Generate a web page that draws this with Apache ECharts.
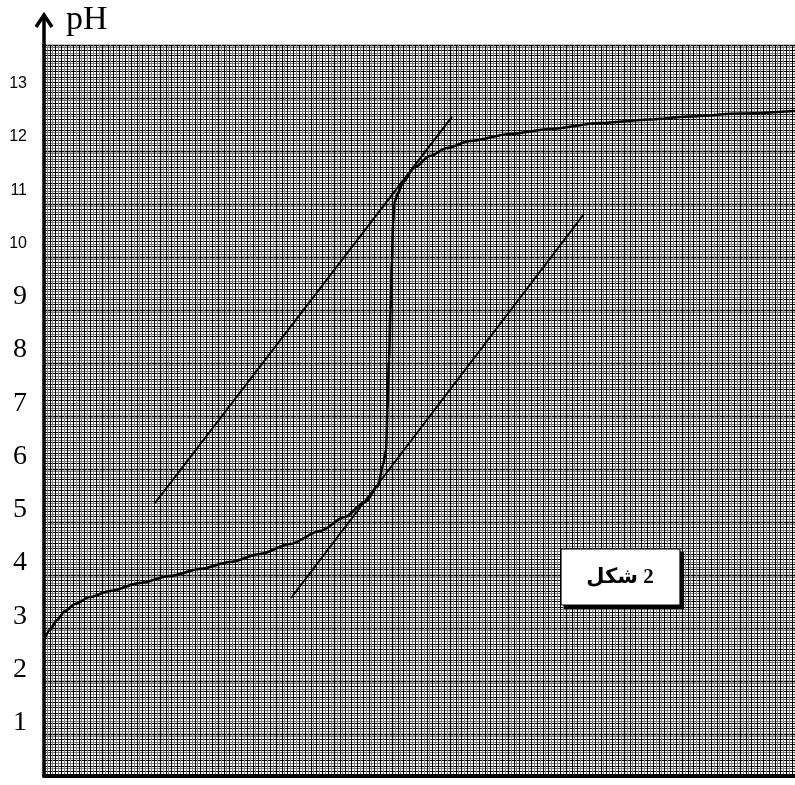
<!DOCTYPE html>
<html><head><meta charset="utf-8">
<script src="https://cdn.jsdelivr.net/npm/echarts@6/dist/echarts.min.js"></script>
<style>html,body{margin:0;padding:0;background:#fff}#c{width:795px;height:785px}</style>
</head><body><div id="c"></div>
<script>
// ---- data (x in cm of graph paper, y in pH) ----
const volume = [0, 0.103, 0.224, 0.362, 0.534, 0.793, 1.138, 1.655, 2.172, 2.690, 3.207, 3.724, 4.241, 4.759, 5.190, 5.534, 5.759, 5.845, 5.897, 5.922, 5.948, 5.974, 6.0, 6.017, 6.043, 6.103, 6.190, 6.397, 6.655, 6.948, 7.345, 8.034, 8.724, 9.586, 10.448, 11.138, 12.0, 12.948];
const pH     = [2.554, 2.742, 2.930, 3.099, 3.230, 3.362, 3.474, 3.624, 3.756, 3.887, 4.019, 4.169, 4.357, 4.601, 4.864, 5.146, 5.446, 5.840, 6.122, 6.873, 7.812, 8.751, 9.690, 10.347, 10.779, 10.948, 11.155, 11.437, 11.643, 11.793, 11.925, 12.056, 12.150, 12.263, 12.329, 12.385, 12.441, 12.488];
const tangentAx = [1.914, 7.034];
const tangentAy = [5.127, 12.376];
const tangentBx = [4.259, 9.310];
const tangentBy = [3.343, 10.554];
const pHTicks = [1, 2, 3, 4, 5, 6, 7, 8, 9, 10, 11, 12, 13];
const axisTitle = 'pH';
const figureLabel = 'شكل \u200E2';

const chart = echarts.init(document.getElementById('c'), null, {renderer: 'canvas'});
const hidden = {axisLine: {show: false}, axisTick: {show: false}, axisLabel: {show: false}};
const xMax = 751 / 58, yMax = 731 / 53.25;

const option = {
  animation: false,
  backgroundColor: '#fff',
  grid: [{left: 44, right: 0, top: 45, bottom: 9}],
  xAxis: [
    {type: 'value', min: 0, max: xMax, position: 'bottom', axisLine: {show: true, onZero: false, lineStyle: {color: '#000', width: 4}}, axisTick: {show: false}, axisLabel: {show: false}, splitLine: {show: false}, z: 10},
    Object.assign({type: 'value', min: 0, max: 751 / 5.8, interval: 0.5, splitLine: {show: true, lineStyle: {color: ['#000', '#7a7a7a'], width: 1}}}, hidden),
    Object.assign({type: 'value', min: 0, max: 751 / 58, interval: 1, splitLine: {show: true, lineStyle: {color: '#000', width: 1.3}}}, hidden)
  ],
  yAxis: [
    {type: 'value', min: 0, max: yMax, interval: 1, axisLine: {show: true, onZero: false, lineStyle: {color: '#000', width: 3.5}}, axisTick: {show: false}, splitLine: {show: false}, z: 10,
     axisLabel: {margin: 17, formatter: function (v) {
        if (pHTicks.indexOf(v) < 0) return '';
        return v >= 10 ? '{s|' + v + '}' : '{t|' + v + '}';
      },
      rich: {s: {fontFamily: 'Liberation Sans', fontSize: 16, color: '#000'}, t: {fontFamily: 'Liberation Serif', fontSize: 28, color: '#000'}}}},
    Object.assign({type: 'value', inverse: true, min: 0, max: 731 / 5.3, interval: 0.5, splitLine: {show: true, lineStyle: {color: ['#000', '#7a7a7a'], width: 1}}}, hidden),
    Object.assign({type: 'value', inverse: true, min: 0, max: 731 / 53, interval: 1, splitLine: {show: true, lineStyle: {color: '#000', width: 1.3}}}, hidden)
  ],
  series: [
    {type: 'line', xAxisIndex: 0, yAxisIndex: 0, data: volume.map((v, i) => [v, pH[i]]), showSymbol: false, smooth: 0.3, smoothMonotone: 'x', lineStyle: {color: '#000', width: 2.6}, z: 5},
    {type: 'line', xAxisIndex: 0, yAxisIndex: 0, data: tangentAx.map((v, i) => [v, tangentAy[i]]), showSymbol: false, lineStyle: {color: '#000', width: 2}, z: 5},
    {type: 'line', xAxisIndex: 0, yAxisIndex: 0, data: tangentBx.map((v, i) => [v, tangentBy[i]]), showSymbol: false, lineStyle: {color: '#000', width: 2}, z: 5}
  ],
  graphic: [
    {type: 'line', shape: {x1: 44, y1: 47, x2: 44, y2: 15}, style: {stroke: '#000', lineWidth: 3.5}, z: 20},
    {type: 'polyline', shape: {points: [[36, 27], [44, 15], [52, 27]]}, style: {stroke: '#000', lineWidth: 3.5, fill: null}, z: 20},
    {type: 'text', x: 66, y: 20, style: {text: axisTitle, font: '34px "Liberation Serif"', fill: '#000', verticalAlign: 'middle'}, z: 20},
    {type: 'rect', shape: {x: 564, y: 552, width: 120, height: 57}, style: {fill: '#000'}, z: 20},
    {type: 'rect', shape: {x: 561, y: 549, width: 119, height: 56}, style: {fill: '#fff', stroke: '#000', lineWidth: 1.2}, z: 21},
    {type: 'text', x: 620, y: 578, style: {text: figureLabel, font: 'bold 21px "Liberation Serif", "DejaVu Sans"', fill: '#000', align: 'center', verticalAlign: 'middle'}, z: 22}
  ]
};
chart.setOption(option);
</script>
</body></html>
